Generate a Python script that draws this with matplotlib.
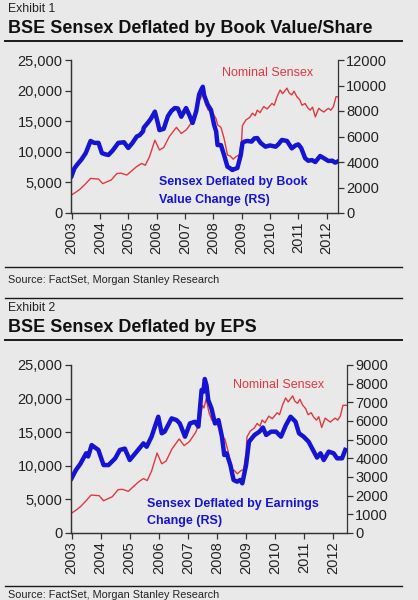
import matplotlib
matplotlib.use("Agg")
import matplotlib.pyplot as plt
from matplotlib.lines import Line2D

plt.rcParams['font.family'] = ['Liberation Sans', 'DejaVu Sans']

# nominal BSE Sensex (left axis), shared by both exhibits
nom_t = [2003.00, 2003.15, 2003.30, 2003.50, 2003.67, 2003.80, 2003.95, 2004.10, 2004.25, 2004.40,
         2004.60, 2004.75, 2004.95, 2005.10, 2005.30, 2005.47, 2005.60, 2005.75, 2005.94, 2006.10,
         2006.25, 2006.45, 2006.70, 2006.87, 2007.05, 2007.27, 2007.40, 2007.50, 2007.55, 2007.63,
         2007.72, 2007.82, 2007.98, 2008.10, 2008.15, 2008.27, 2008.38, 2008.50, 2008.60, 2008.70,
         2008.80, 2008.92, 2009.00, 2009.03, 2009.15, 2009.28, 2009.38, 2009.48, 2009.55, 2009.65,
         2009.78, 2009.90, 2010.07, 2010.15, 2010.25, 2010.36, 2010.45, 2010.60, 2010.68, 2010.77,
         2010.85, 2010.95, 2011.05, 2011.13, 2011.24, 2011.33, 2011.42, 2011.50, 2011.60, 2011.72,
         2011.80, 2011.90, 2012.00, 2012.06, 2012.15, 2012.24, 2012.33, 2012.45]
nominal = [2950, 3400, 3900, 4800, 5650, 5600, 5550, 4800, 5100, 5400,
           6450, 6500, 6200, 6800, 7600, 8100, 7800, 9200, 11900, 10300,
           10700, 12500, 14000, 13000, 13600, 15000, 16500, 19000, 18600, 20000,
           18000, 16800, 16300, 15400, 14400, 14000, 12200, 9500, 9300, 8800,
           9200, 9500, 12000, 14300, 15200, 15600, 16300, 15900, 16800, 16400,
           17400, 17000, 17900, 17600, 19000, 20100, 19500, 20400, 19600, 19300,
           19900, 19000, 18500, 17600, 17900, 17200, 16800, 17300, 15700, 17100,
           16800, 16500, 16900, 17100, 16800, 17400, 19000, 19000]

# Sensex deflated by book value change (right axis)
bv_t = [2003.00, 2003.10, 2003.20, 2003.35, 2003.50, 2003.67, 2003.80, 2003.95, 2004.07, 2004.20,
        2004.30, 2004.45, 2004.65, 2004.85, 2005.00, 2005.15, 2005.30, 2005.40, 2005.52, 2005.55,
        2005.70, 2005.80, 2005.94, 2006.05, 2006.10, 2006.25, 2006.40, 2006.52, 2006.64, 2006.75,
        2006.87, 2007.04, 2007.15, 2007.27, 2007.40, 2007.50, 2007.57, 2007.63, 2007.68, 2007.74,
        2007.80, 2007.92, 2008.03, 2008.10, 2008.15, 2008.27, 2008.38, 2008.50, 2008.60, 2008.67,
        2008.75, 2008.85, 2008.97, 2009.03, 2009.10, 2009.20, 2009.35, 2009.45, 2009.55, 2009.67,
        2009.84, 2010.00, 2010.20, 2010.30, 2010.42, 2010.60, 2010.77, 2010.90, 2011.00, 2011.10,
        2011.24, 2011.35, 2011.48, 2011.60, 2011.77, 2011.90, 2012.06, 2012.20, 2012.30, 2012.40]
bv_defl = [2900, 3500, 3800, 4200, 4700, 5650, 5500, 5500, 4700, 4600,
           4550, 4900, 5500, 5550, 5100, 5500, 6000, 6100, 6400, 6700,
           7100, 7400, 7950, 7000, 6500, 6600, 7600, 8000, 8230, 8200,
           7550, 8230, 7700, 7060, 8000, 9300, 9650, 9900, 9200, 8860,
           8500, 8080, 6900, 6400, 5330, 5330, 4550, 3630, 3500, 3370,
           3450, 3530, 4550, 5490, 5600, 5650, 5600, 5850, 5880, 5500,
           5200, 5300, 5200, 5400, 5730, 5650, 5070, 5300, 5380, 5100,
           4300, 4100, 4150, 4000, 4470, 4300, 4080, 4100, 3950, 4050]

# Sensex deflated by earnings change (right axis)
eps_t = [2003.00, 2003.15, 2003.30, 2003.50, 2003.57, 2003.69, 2003.92, 2004.10, 2004.27, 2004.50,
         2004.66, 2004.83, 2005.00, 2005.24, 2005.47, 2005.58, 2005.75, 2005.98, 2006.10, 2006.20,
         2006.44, 2006.61, 2006.72, 2006.90, 2007.07, 2007.24, 2007.36, 2007.47, 2007.53, 2007.58,
         2007.64, 2007.70, 2007.81, 2007.93, 2008.05, 2008.17, 2008.25, 2008.33, 2008.46, 2008.57,
         2008.69, 2008.80, 2008.87, 2009.00, 2009.10, 2009.29, 2009.46, 2009.58, 2009.69, 2009.86,
         2010.03, 2010.20, 2010.37, 2010.53, 2010.70, 2010.82, 2010.98, 2011.15, 2011.33, 2011.44,
         2011.56, 2011.67, 2011.84, 2012.01, 2012.13, 2012.30, 2012.41]
eps_defl = [2930, 3375, 3700, 4270, 4100, 4710, 4450, 3640, 3640, 4000,
            4450, 4520, 3910, 4360, 4800, 4620, 5160, 6230, 5340, 5430,
            6140, 6050, 5870, 5160, 5870, 5960, 5700, 7660, 7570, 8250,
            7900, 7120, 6680, 5870, 6050, 5160, 4180, 4270, 3640, 2840,
            2750, 2840, 2660, 3640, 4890, 5250, 5430, 5650, 5250, 5430,
            5430, 5160, 5780, 6230, 5960, 5340, 5160, 4890, 4360, 4040,
            4270, 3910, 4360, 4270, 4000, 4000, 4450]

years = list(range(2003, 2013))
left_ticks = [0, 5000, 10000, 15000, 20000, 25000]

RED = '#e0393e'
BLUE = '#1414d2'
BG = '#e9e9e9'
W, H = 418, 600


def px(x, y):
    return x / W, 1 - y / H


fig = plt.figure(figsize=(4.18, 6.0), dpi=100, facecolor=BG)


def panel(rect, xmax, right_max, right_step, t_defl, defl):
    ax = fig.add_axes(rect)
    ax.set_facecolor(BG)
    ax.plot(nom_t, nominal, color=RED, lw=1.0)
    ax.set_xlim(2002.98, xmax)
    ax.set_ylim(0, 25000)
    ax.set_yticks(left_ticks)
    ax.set_yticklabels([f'{v:,}' for v in left_ticks])
    ax.set_xticks(years)
    ax.set_xticklabels([str(y) for y in years], rotation=90)
    ax2 = ax.twinx()
    ax2.plot(t_defl, defl, color=BLUE, lw=3.2, solid_joinstyle='round')
    ax2.set_ylim(0, right_max)
    ax2.set_yticks(range(0, right_max + 1, right_step))
    for a in (ax, ax2):
        a.spines['top'].set_visible(False)
        for s in a.spines.values():
            s.set_color('#333333')
            s.set_linewidth(0.9)
        a.tick_params(length=4, width=0.9, color='#333333', labelsize=10.5,
                      labelcolor='#222222', pad=2)
    ax.spines['right'].set_visible(False)
    return ax, ax2


panel([71 / W, 1 - 213 / H, 267 / W, 153 / H], 2012.4, 12000, 2000, bv_t, bv_defl)
panel([71 / W, 1 - 533 / H, 276 / W, 168 / H], 2012.47, 9000, 1000, eps_t, eps_defl)

# header / footer text
for (x, y, s, kw) in [
    (8, 12, 'Exhibit 1', dict(fontsize=8.8, color='#222222')),
    (8, 33, 'BSE Sensex Deflated by Book Value/Share', dict(fontsize=13, weight='bold', color='#111111')),
    (8, 283, 'Source: FactSet, Morgan Stanley Research', dict(fontsize=7.8, color='#222222')),
    (8, 311, 'Exhibit 2', dict(fontsize=8.8, color='#222222')),
    (8, 332, 'BSE Sensex Deflated by EPS', dict(fontsize=13, weight='bold', color='#111111')),
    (8, 598, 'Source: FactSet, Morgan Stanley Research', dict(fontsize=7.8, color='#222222')),
]:
    fig.text(*px(x, y), s, va='baseline', ha='left', **kw)

# rules
for y, lw in [(40.7, 1.4), (267, 1.0), (298.3, 1.0), (340, 1.4), (586, 1.0)]:
    x0, yy = px(5, y)
    x1, _ = px(402, y)
    fig.add_artist(Line2D([x0, x1], [yy, yy], color='#1a1a1a', lw=lw))

# series labels
fig.text(*px(222, 73), 'Nominal Sensex', color=RED, fontsize=9, va='center')
fig.text(*px(159, 182), 'Sensex Deflated by Book', color=BLUE, fontsize=8.9,
         weight='bold', va='center')
fig.text(*px(159, 200), 'Value Change (RS)', color=BLUE, fontsize=8.9,
         weight='bold', va='center')
fig.text(*px(233, 385), 'Nominal Sensex', color=RED, fontsize=9, va='center')
fig.text(*px(147, 504), 'Sensex Deflated by Earnings', color=BLUE, fontsize=9,
         weight='bold', va='center')
fig.text(*px(147, 521), 'Change (RS)', color=BLUE, fontsize=9,
         weight='bold', va='center')

fig.savefig('out.png', dpi=100, facecolor=BG)
